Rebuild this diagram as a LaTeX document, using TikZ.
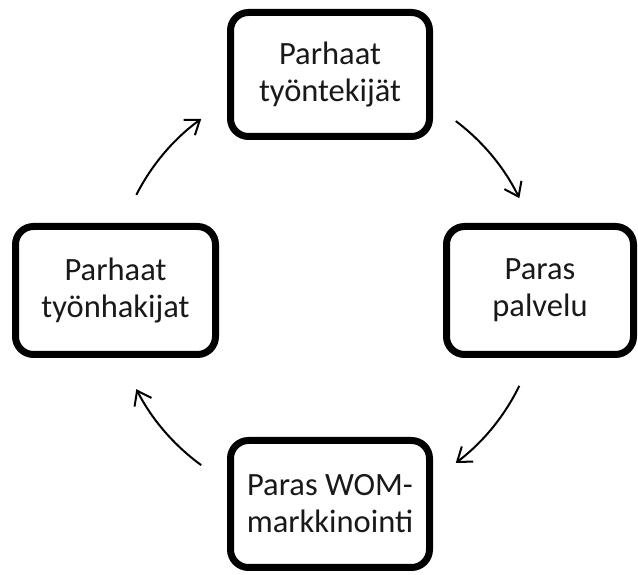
\documentclass[tikz,border=0pt]{standalone}
\usepackage{fontspec}
\setmainfont{Carlito}
\usetikzlibrary{arrows.meta,shadows}
\begin{document}
\begin{tikzpicture}[x=1pt,y=1pt,
  cyclebox/.style={draw=black, line width=7pt, rounded corners=18pt, fill=white,
    align=center, inner sep=0pt, text=black!90,
    font=\fontsize{32.5pt}{37pt}\selectfont,
    drop shadow={shadow xshift=2pt, shadow yshift=-2.5pt, opacity=0.25, fill=black!60}},
  cyclearrow/.style={line width=2pt, -{Straight Barb[length=13pt,width=19pt,line width=2pt]}}]
\useasboundingbox (0,0) rectangle (638,575);

% the four stages of the cycle
\node[cyclebox, minimum width=199pt, minimum height=124pt] (tyontekijat) at (330,500.5) {\raisebox{-4pt}{\parbox{190pt}{\centering Parhaat\\työntekijät}}};
\node[cyclebox, minimum width=187pt, minimum height=128pt] (palvelu) at (540,284.5) {\raisebox{-4pt}{\parbox{180pt}{\centering Paras\\palvelu}}};
\node[cyclebox, minimum width=199pt, minimum height=127pt] (wom) at (330,71) {\raisebox{-4pt}{\parbox{190pt}{\centering Paras WOM-\\markkinointi}}};
\node[cyclebox, minimum width=200pt, minimum height=128pt] (hakijat) at (115.5,284.5) {\raisebox{-4pt}{\parbox{190pt}{\centering Parhaat\\työnhakijat}}};

% curved arrows on a common circle
\coordinate (hub) at (327,283);
\draw[cyclearrow] (hub) ++(53:214pt) arc[start angle=53, end angle=26, radius=214pt];
\draw[cyclearrow] (hub) ++(-26:214pt) arc[start angle=-26, end angle=-53, radius=214pt];
\draw[cyclearrow] (hub) ++(-126:214pt) arc[start angle=-126, end angle=-153, radius=214pt];
\draw[cyclearrow] (hub) ++(153:214pt) arc[start angle=153, end angle=126, radius=214pt];
\end{tikzpicture}
\end{document}
